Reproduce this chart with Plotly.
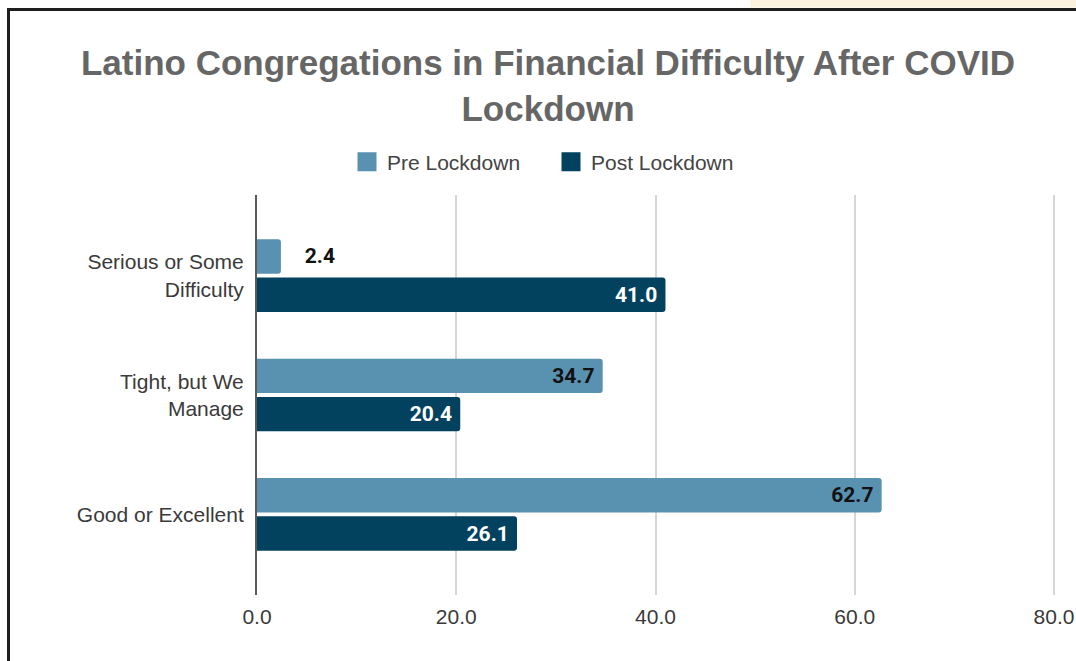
import plotly.graph_objects as go

# ---- data ----
categories = ["Serious or Some<br>Difficulty", "Tight, but We<br>Manage", "Good or Excellent"]
pre_lockdown = [2.4, 34.7, 62.7]
post_lockdown = [41.0, 20.4, 26.1]
series_names = ["Pre Lockdown", "Post Lockdown"]
x_ticks = [0, 20, 40, 60, 80]

X_MAX = 80.3  # a hair beyond 80 so the 80 gridline is drawn
W, H = 1076, 661
L, T, B = 257, 195, 66
X80_PX = 1054
R = W - (L + round((X80_PX - L) * X_MAX / 80))
PW, PH = W - L - R, H - T - B


def px(x):
    return (x - L) / PW


def py(y):
    return (H - B - y) / PH


PRE_COLOR = "#5991b1"
POST_COLOR = "#03425f"
NB = "\u00a0"
LABEL_FONT = "Roboto"
AXIS_FONT = "Liberation Sans"

fig = go.Figure()
fig.add_trace(go.Bar(
    y=categories, x=pre_lockdown, name=series_names[0], orientation="h",
    marker=dict(color=PRE_COLOR, line=dict(width=0)),
    texttemplate=[NB * 4 + "%{x:.1f}", "%{x:.1f}" + NB, "%{x:.1f}" + NB],
    textposition=["outside", "inside", "inside"],
    insidetextanchor="end",
    textfont=dict(family=LABEL_FONT, size=21, color="#111111", weight="bold"),
    cliponaxis=False, showlegend=False,
))
fig.add_trace(go.Bar(
    y=categories, x=post_lockdown, name=series_names[1], orientation="h",
    marker=dict(color=POST_COLOR, line=dict(width=0)),
    texttemplate="%{x:.1f}" + NB,
    textposition="inside",
    insidetextanchor="end",
    textfont=dict(family=LABEL_FONT, size=21, color="#ffffff", weight="bold"),
    cliponaxis=False, showlegend=False,
))
# legend entries with larger square swatches
for name, color in zip(series_names, [PRE_COLOR, POST_COLOR]):
    fig.add_trace(go.Scatter(
        x=[None], y=[None], mode="markers", name=name,
        marker=dict(symbol="square", size=16, color=color,
                    line=dict(color=color, width=3)),
        showlegend=True,
    ))

shapes = [
    # beige strip at the very top right
    dict(type="rect", xref="paper", yref="paper",
         x0=px(750), x1=px(1080), y0=py(7.5), y1=py(-2),
         fillcolor="#fbf1de", line=dict(width=0), layer="below"),
    # dark frame lines (left and top)
    dict(type="line", xref="paper", yref="paper",
         x0=px(8.5), x1=px(8.5), y0=py(9), y1=py(670),
         line=dict(color="#1e1e1e", width=3)),
    dict(type="line", xref="paper", yref="paper",
         x0=px(7), x1=px(1080), y0=py(9.5), y1=py(9.5),
         line=dict(color="#1e1e1e", width=3)),
]

fig.update_layout(
    width=W, height=H,
    margin=dict(l=L, r=R, t=T, b=B, pad=0, autoexpand=False),
    paper_bgcolor="white", plot_bgcolor="white",
    barmode="group", bargap=0.36, bargroupgap=0.1,
    barcornerradius=3,
    uniformtext=dict(minsize=21, mode="show"),
    title=dict(
        text="Latino Congregations in Financial Difficulty After COVID<br>Lockdown",
        font=dict(family=AXIS_FONT, size=35, color="#666666", weight="bold"),
        x=548 / W, xanchor="center", xref="container",
        y=1 - 75 / H, yanchor="middle", yref="container",
    ),
    legend=dict(
        orientation="h", xref="container", yref="container",
        x=551 / W, xanchor="center", y=1 - 162 / H, yanchor="middle",
        font=dict(family=AXIS_FONT, size=21, color="#444444"),
        itemsizing="trace", traceorder="normal",
        entrywidth=159, entrywidthmode="pixels",
    ),
    xaxis=dict(
        range=[0, X_MAX], tickvals=x_ticks, tickformat=".1f",
        showgrid=True, gridcolor="#d6d6d6", gridwidth=2,
        zeroline=False, showline=False, ticks="",
        tickfont=dict(family=AXIS_FONT, size=21, color="#3a3a3a"),
        ticklabelstandoff=7, automargin=False,
    ),
    yaxis=dict(
        range=[2.675, -0.675], showgrid=False, ticks="",
        showline=True, linecolor="#5a5a5a", linewidth=2,
        tickfont=dict(family=AXIS_FONT, size=21, color="#3a3a3a"),
        ticklabelstandoff=7, automargin=False,
    ),
    shapes=shapes,
    showlegend=True,
)

fig.write_html(
    "out.html",
    config={"displayModeBar": False},
    post_script=(
        "document.body.style.margin='0px';"
        "document.body.style.overflow='hidden';"
        "document.documentElement.style.overflow='hidden';"
    ),
)
